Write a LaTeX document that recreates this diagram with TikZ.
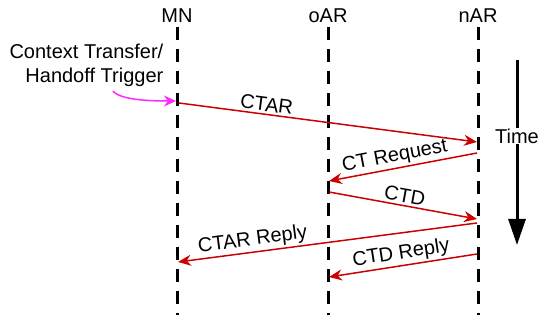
\documentclass[tikz,border=0pt]{standalone}
\usepackage{fontspec}
\setmainfont{Liberation Sans}
\usetikzlibrary{arrows.meta}
\definecolor{msgred}{RGB}{204,0,0}
\definecolor{trigmag}{RGB}{255,40,255}
\begin{document}
\begin{tikzpicture}[x=1pt,y=-1pt,
  every node/.style={font=\fontsize{20}{24}\selectfont, inner sep=1.5pt},
  lifeline/.style={line width=3pt, dash pattern=on 13pt off 9pt},
  msg/.style={draw=msgred, line width=1.5pt, -{Stealth[length=13pt,width=11pt]}},
  lbl/.style={sloped, above=0.5pt}]
\useasboundingbox (0,0) rectangle (540,320);
% headers
\node (mnh) at (177,16) {MN};
\node (oarh) at (328,16) {oAR};
\node (narh) at (478,16) {nAR};
% lifelines
\coordinate (mnt) at (177,27); \coordinate (mnb) at (177,315);
\coordinate (oart) at (328,27); \coordinate (oarb) at (328,315);
\coordinate (nart) at (478,27); \coordinate (narb) at (478,315);
\draw[lifeline] (mnt) -- (mnb);
\draw[lifeline] (oart) -- (oarb);
\draw[lifeline] (nart) -- (narb);
% trigger
\node[align=right, anchor=east] (trig) at (165,65) {Context Transfer/\\Handoff Trigger};
\coordinate (trigs) at (113,91);
\coordinate (m1) at (179,103);
\draw[trigmag, line width=1.5pt, -{Stealth[length=12pt,width=11pt]}] (trigs) .. controls (120,100) and (150,101) .. (176,101);
% messages
\coordinate (n1) at (477,142);
\coordinate (n2) at (477,153); \coordinate (o2) at (329,181);
\coordinate (o3) at (329,192); \coordinate (n3) at (477,219);
\coordinate (n4) at (477,223); \coordinate (m4) at (178,262);
\coordinate (n5) at (477,254); \coordinate (o5) at (329,277);
\draw[msg] (m1) -- node[lbl, pos=0.29] (l1) {CTAR} (n1);
\draw[msg] (n2) -- node[lbl, pos=0.54] (l2) {CT Request} (o2);
\draw[msg] (o3) -- node[lbl, pos=0.5] (l3) {CTD} (n3);
\draw[msg] (n4) -- node[lbl, pos=0.745] (l4) {CTAR Reply} (m4);
\draw[msg] (n5) -- node[lbl, pos=0.5] (l5) {CTD Reply} (o5);
% time
\coordinate (tt) at (517,60); \coordinate (tb) at (517,245);
\draw[line width=3pt, -{Triangle[length=26pt,width=17pt]}] (tt) -- (tb);
\node[fill=white, inner sep=1pt] (time) at (517,136) {Time};
\end{tikzpicture}
\end{document}
